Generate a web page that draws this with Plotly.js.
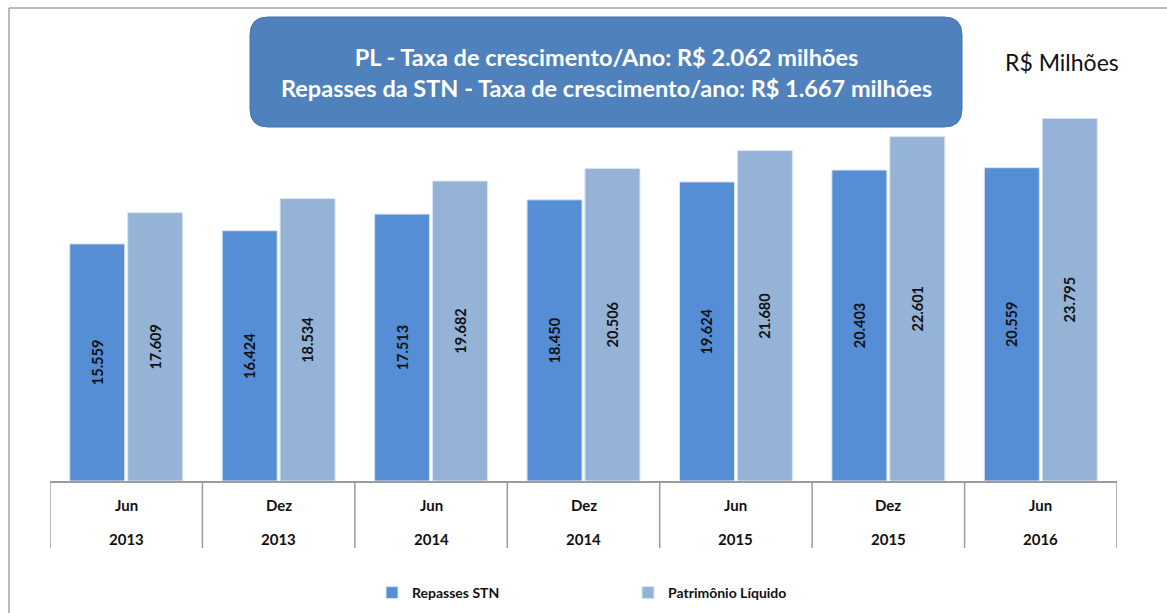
<!DOCTYPE html>
<html>
<head>
<meta charset="utf-8">
<script src="https://cdn.plot.ly/plotly-3.0.1.min.js"></script>
<style>html,body{margin:0;padding:0;background:#fff;}#chart{width:1167px;height:613px;}</style>
</head>
<body>
<div id="chart"></div>
<script>
const months = ["Jun", "Dez", "Jun", "Dez", "Jun", "Dez", "Jun"];
const years = ["2013", "2013", "2014", "2014", "2015", "2015", "2016"];
const repassesSTN = [15559, 16424, 17513, 18450, 19624, 20403, 20559];
const patrimonioLiquido = [17609, 18534, 19682, 20506, 21680, 22601, 23795];
const seriesNames = ["Repasses STN", "Patrimônio Líquido"];
const boxLines = ["PL - Taxa de crescimento/Ano: R$ 2.062 milhões", "Repasses da STN - Taxa de crescimento/ano: R$ 1.667 milhões"];
const unitLabel = "R$ Milhões";

const W = 1167, H = 613;
const M = {l: 50, r: 50, t: 100, b: 132};
const PW = W - M.l - M.r, PH = H - M.t - M.b;
const px = x => (x - M.l) / PW;
const py = y => (H - M.b - y) / PH;

const cats = months.map((m, i) => i);
const font = "Lato, 'Open Sans', sans-serif";

const barText = {family: font, size: 14.5, color: "#111", weight: "bold"};
const traces = [
  {type: "bar", name: seriesNames[0], x: cats, y: repassesSTN,
   marker: {color: "#558ed5", line: {color: "#dbe5f1", width: 1}},
   texttemplate: "%{y:,.0f}", textposition: "inside", insidetextanchor: "middle",
   textangle: -90, textfont: barText, constraintext: "none", hoverinfo: "skip"},
  {type: "bar", name: seriesNames[1], x: cats, y: patrimonioLiquido,
   marker: {color: "#95b3d7", line: {color: "#dbe5f1", width: 1}},
   texttemplate: "%{y:,.0f}", textposition: "inside", insidetextanchor: "middle",
   textangle: -90, textfont: barText, constraintext: "none", hoverinfo: "skip"}
];

const shapes = [];
const annotations = [];
const gridColor = "#9c9c9c";
// category dividers
for (let i = 0; i <= cats.length; i++) {
  shapes.push({type: "line", xref: "x", yref: "paper", x0: i - 0.5, x1: i - 0.5,
    y0: 0, y1: py(548), line: {color: gridColor, width: 1.5}});
}
cats.forEach((c, i) => {
  annotations.push({xref: "x", yref: "paper", x: c, y: py(505), text: months[i], showarrow: false,
    xanchor: "center", font: {family: font, size: 15, color: "#111", weight: "bold"}, yanchor: "middle"});
  annotations.push({xref: "x", yref: "paper", x: c, y: py(539), text: years[i], showarrow: false,
    xanchor: "center", font: {family: font, size: 15, color: "#111", weight: "bold"}, yanchor: "middle"});
});

// outer frame (left + top)
shapes.push({type: "line", xref: "paper", yref: "paper", x0: px(9), x1: px(9), y0: py(8), y1: py(620), line: {color: "#a6a6a6", width: 1.5}});
shapes.push({type: "line", xref: "paper", yref: "paper", x0: px(9), x1: px(1175), y0: py(8), y1: py(8), line: {color: "#a6a6a6", width: 1.5}});

// rounded box
function roundRect(x0, y0, x1, y1, r) {
  const X = v => px(v), Y = v => py(v);
  return `M ${X(x0 + r)} ${Y(y0)} L ${X(x1 - r)} ${Y(y0)} Q ${X(x1)} ${Y(y0)} ${X(x1)} ${Y(y0 + r)} ` +
    `L ${X(x1)} ${Y(y1 - r)} Q ${X(x1)} ${Y(y1)} ${X(x1 - r)} ${Y(y1)} ` +
    `L ${X(x0 + r)} ${Y(y1)} Q ${X(x0)} ${Y(y1)} ${X(x0)} ${Y(y1 - r)} ` +
    `L ${X(x0)} ${Y(y0 + r)} Q ${X(x0)} ${Y(y0)} ${X(x0 + r)} ${Y(y0)} Z`;
}
shapes.push({type: "path", xref: "paper", yref: "paper", path: roundRect(250, 17, 962, 127, 18),
  fillcolor: "#4f81bd", line: {color: "#4674ad", width: 1}});
annotations.push({xref: "paper", yref: "paper", x: px(606), y: py(72), showarrow: false,
  text: boxLines.join("<br>"), align: "center", xanchor: "center", yanchor: "middle",
  font: {family: font, size: 23.5, color: "#ffffff", weight: "bold"}});
annotations.push({xref: "paper", yref: "paper", x: px(1062), y: py(62), showarrow: false,
  text: unitLabel, xanchor: "center", yanchor: "middle", font: {family: font, size: 23, color: "#111"}});

const layout = {
  width: W, height: H,
  margin: M,
  paper_bgcolor: "#ffffff", plot_bgcolor: "#ffffff",
  barmode: "group", bargap: 0.24, bargroupgap: 0.05,
  showlegend: true,
  legend: {orientation: "h", xref: "container", yref: "container", x: 372 / W, xanchor: "left",
    y: (H - 593) / H, yanchor: "middle",
    entrywidth: 211, entrywidthmode: "pixels", itemwidth: 30,
    font: {family: font, size: 14, color: "#111", weight: "bold"}, bgcolor: "rgba(0,0,0,0)"},
  xaxis: {type: "linear", range: [-0.5, cats.length - 0.5], showticklabels: false, ticks: "",
    showgrid: false, zeroline: false, showline: true, linecolor: gridColor, linewidth: 1.5, fixedrange: true},
  yaxis: {range: [0, 25000], visible: false, showgrid: false, zeroline: false, fixedrange: true},
  separators: ",.",
  shapes: shapes,
  annotations: annotations,
  font: {family: font}
};

Plotly.newPlot("chart", traces, layout, {displayModeBar: false, staticPlot: true});
</script>
</body>
</html>
